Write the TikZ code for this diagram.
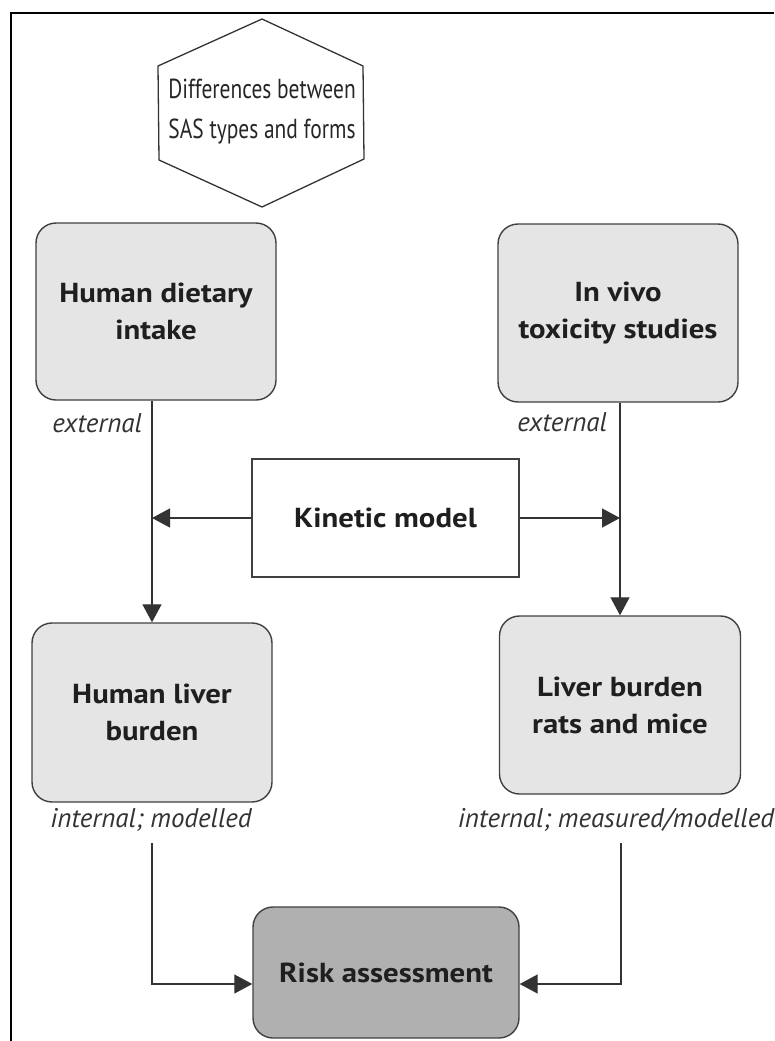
\documentclass[tikz,border=0pt]{standalone}
\usepackage{fontspec}
\setmainfont{PT Sans}
\newfontfamily\boxfont[FakeStretch=1.12]{PT Sans}
\newfontfamily\hexfont[FakeStretch=0.78]{PT Sans}
\newfontfamily\lblfont[FakeStretch=1.0]{PT Sans}
\usetikzlibrary{arrows.meta}
\begin{document}
\begin{tikzpicture}[x=1pt,y=-1pt,
  box/.style={draw=black!75,line width=1.4pt,rounded corners=20pt,fill=black!10,
    align=center,font=\boxfont\fontsize{27.5}{37}\selectfont\bfseries,text=black!88,inner sep=0pt},
  plain/.style={draw=black!75,line width=1.4pt,fill=white,align=center,
    font=\boxfont\fontsize{27.5}{37}\selectfont\bfseries,text=black!88,inner sep=0pt},
  lbl/.style={font=\lblfont\fontsize{27}{30}\selectfont\itshape,text=black!80,inner sep=0pt},
  hextext/.style={align=center,font=\hexfont\fontsize{27.5}{40}\selectfont,text=black!85,inner sep=0pt},
  hexline/.style={draw=black!80,line width=1.3pt},
  conn/.style={draw=black!80,line width=1.3pt},
  arr/.style={conn,-{Triangle[length=18pt,width=19pt]}},
  frame/.style={draw=black,line width=2.2pt}
]
\useasboundingbox (0,0) rectangle (774,1041);
\draw[frame] (11,1041) -- (11,13) -- (774,13);

% hexagon
\node[hextext] (hex) at (262,111.5) {Differences between\\SAS types and forms};
\draw[hexline] (262,19) -- (158,66) -- (159,160) -- (262,207) -- (364,159) -- (363,66) -- cycle;

% boxes
\node[box,minimum width=240pt,minimum height=177pt] (hd) at (156,311.5) {Human dietary\\intake};
\node[box,minimum width=240pt,minimum height=178pt] (iv) at (618,313) {In vivo\\toxicity studies};
\node[plain,minimum width=267pt,minimum height=118pt] (kin) at (385.5,518) {Kinetic model};
\node[box,minimum width=240pt,minimum height=179pt] (hl) at (152,712.5) {Human liver\\burden};
\node[box,minimum width=241pt,minimum height=178pt] (lb) at (620,705) {Liver burden\\rats and mice};
\node[box,fill=black!31,minimum width=266pt,minimum height=131pt] (rk) at (386,972.5) {Risk assessment};

% labels
\node[lbl,anchor=east] (e1) at (142,423) {external};
\node[lbl,anchor=east] (e2) at (607,422) {external};
\node[lbl] (i1) at (151,820) {internal; modelled};
\node[lbl] (i2) at (616,820) {internal; measured/modelled};

% connectors
\coordinate (ktl) at (hl.north |- kin.west);
\coordinate (ktr) at (lb.north |- kin.east);
\draw[arr] (hd.south -| hl.north) -- (hl.north);
\draw[arr] (iv.south -| lb.north) -- (lb.north);
\draw[arr] (kin.west) -- (ktl);
\draw[arr] (kin.east) -- (ktr);

\coordinate (l1) at (152,843);
\coordinate (l2) at (152,984);
\coordinate (r1) at (621,843);
\coordinate (r2) at (621,984);
\draw[arr] (l1) -- (l2) -- (l2 -| rk.west);
\draw[arr] (r1) -- (r2) -- (r2 -| rk.east);
\end{tikzpicture}
\end{document}
